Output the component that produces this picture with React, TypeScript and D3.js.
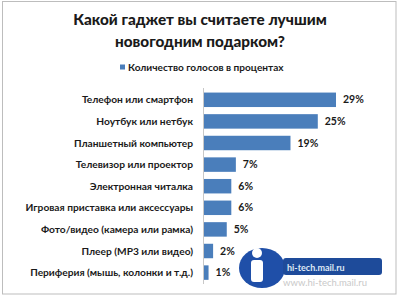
import React from "react";
import * as d3 from "d3";

const categories = [
  "Телефон или смартфон",
  "Ноутбук или нетбук",
  "Планшетный компьютер",
  "Телевизор или проектор",
  "Электронная читалка",
  "Игровая приставка или аксессуары",
  "Фото/видео (камера или рамка)",
  "Плеер (MP3 или видео)",
  "Периферия (мышь, колонки и т.д.)",
];
const values = [29, 25, 19, 7, 6, 6, 5, 2, 1];
const titleLines = ["Какой гаджет вы считаете лучшим", "новогодним подарком?"];
const legendLabel = "Количество голосов в процентах";

const W = 400;
const H = 297;
const FONT = "Lato, 'Open Sans', sans-serif";
const BLUE = "#4a7ebb";

export default function App() {
  const y = d3
    .scaleBand<string>()
    .domain(categories)
    .range([89, 283.4])
    .paddingInner(0.33)
    .paddingOuter(0.165);
  const x = d3.scaleLinear().domain([0, 29]).range([204, 336]);

  return (
    <svg
      width={W}
      height={H}
      style={{ position: "absolute", left: 0, top: 0, background: "#fff" }}
      fontFamily={FONT}
    >
      <rect x={0} y={0} width={W} height={H} fill="#fff" />
      <rect x={2.5} y={1.5} width={393.5} height={292.5} fill="none" stroke="#bdbdbd" strokeWidth={1} />
      {titleLines.map((t, i) => (
        <text
          key={t}
          x={200}
          y={25 + i * 22}
          textAnchor="middle"
          fontSize={15.3}
          fontWeight="900"
          fill="#1a1a1a"
        >
          {t}
        </text>
      ))}
      <rect x={120} y={64.5} width={5} height={5} fill={BLUE} />
      <text x={128} y={70.5} fontSize={10.1} fontWeight="bold" fill="#1a1a1a">
        {legendLabel}
      </text>
      <line x1={203.5} x2={203.5} y1={88} y2={284} stroke="#c8c8c8" strokeWidth={1} />
      {categories.map((c, i) => {
        const by = y(c)!;
        const bh = y.bandwidth();
        return (
          <g key={c}>
            <text
              x={193}
              y={by + bh / 2}
              dy="0.35em"
              textAnchor="end"
              fontSize={10.2}
              fontWeight="bold"
              fill="#1a1a1a"
            >
              {c}
            </text>
            <rect x={x(0)} y={by} width={x(values[i]) - x(0)} height={bh} fill={BLUE} />
            <text
              x={x(values[i]) + 7}
              y={by + bh / 2}
              dy="0.35em"
              fontSize={10.5}
              fontWeight="bold"
              fill="#1a1a1a"
            >
              {values[i]}%
            </text>
          </g>
        );
      })}
      {/* watermark */}
      <g>
        <ellipse cx={262} cy={268} rx={23} ry={20} fill="#1f4fa8" />
        <circle cx={257} cy={253} r={5} fill="#fff" />
        <rect x={251} y={260} width={12} height={22} rx={3} fill="#fff" />
        <rect x={283} y={258} width={99} height={17} rx={3} fill="#1e4b9a" />
        <text x={287} y={270.5} fontSize={9} fill="#dfe8f5" fontWeight="bold">
          hi-tech.mail.ru
        </text>
        <text x={283} y={285.5} fontSize={9.5} fill="#c9c9c9">
          www.hi-tech.mail.ru
        </text>
      </g>
    </svg>
  );
}
